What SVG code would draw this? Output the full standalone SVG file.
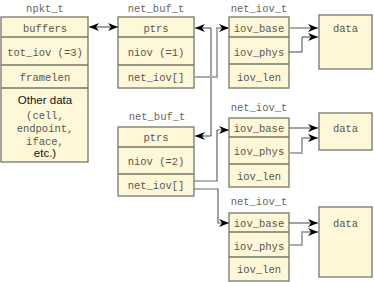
<svg xmlns="http://www.w3.org/2000/svg" width="374" height="282" viewBox="0 0 374 282">
<style>
.bg{fill:#ffffff}
.box{fill:#fff8d8;stroke:#77776a;stroke-width:1.3}
.div{stroke:#77776a;stroke-width:1.3;fill:none}
.mono{font-family:"Liberation Mono","Courier New",monospace;font-size:10.5px;fill:#555;text-anchor:middle}
.sans{font-family:"Liberation Sans",Arial,sans-serif;font-size:11.5px;fill:#111;text-anchor:middle}
.ttl{font-family:"Liberation Mono","Courier New",monospace;font-size:10.5px;fill:#666;text-anchor:middle}
.ld{fill:none;stroke:#444;stroke-width:1}
.lm{fill:none;stroke:#666;stroke-width:1.2}
.lg{fill:none;stroke:#aaa;stroke-width:2}
</style>
<defs>
<marker id="ah" markerUnits="userSpaceOnUse" markerWidth="11" markerHeight="9" refX="10" refY="4" orient="auto-start-reverse" viewBox="0 0 11 9">
<path d="M0,0 L10,4 L0,8 L3,4 Z" fill="#000"/>
</marker>
</defs>
<rect class="bg" x="0" y="0" width="374" height="282"/>

<g id="npkt_t">
<text class="ttl" x="45" y="12">npkt_t</text>
<rect class="box" x="1" y="17" width="87" height="145"/>
<path class="div" d="M1,37 H88 M1,65 H88 M1,88 H88"/>
<text class="mono" x="45" y="31.5">buffers</text>
<text class="mono" x="45" y="55.5">tot_iov (=3)</text>
<text class="mono" x="45" y="80.5">framelen</text>
<text class="sans" x="45" y="104">Other data</text>
<text class="mono" x="45" y="118.5">(cell,</text>
<text class="mono" x="45" y="131.5">endpoint,</text>
<text class="mono" x="45" y="144.5">iface,</text>
<text class="sans" x="45" y="157">etc.)</text>
</g>

<g id="net_buf_1">
<text class="ttl" x="156" y="12">net_buf_t</text>
<rect class="box" x="118" y="17" width="76" height="71"/>
<path class="div" d="M118,37 H194 M118,65 H194"/>
<text class="mono" x="156" y="31.5">ptrs</text>
<text class="mono" x="156" y="55.5">niov (=1)</text>
<text class="mono" x="156" y="80.5">net_iov[]</text>
</g>

<g id="net_buf_2">
<text class="ttl" x="157" y="120">net_buf_t</text>
<rect class="box" x="118" y="127" width="76" height="69"/>
<path class="div" d="M118,147 H194 M118,174 H194"/>
<text class="mono" x="156" y="141">ptrs</text>
<text class="mono" x="156" y="164.5">niov (=2)</text>
<text class="mono" x="156" y="188.5">net_iov[]</text>
</g>

<g id="net_iov_1">
<text class="ttl" x="259" y="12">net_iov_t</text>
<rect class="box" x="229" y="17" width="60" height="71"/>
<path class="div" d="M229,37 H289 M229,64 H289"/>
<text class="mono" x="259" y="31.5">iov_base</text>
<text class="mono" x="259" y="55.5">iov_phys</text>
<text class="mono" x="259" y="80.5">iov_len</text>
</g>

<g id="net_iov_2">
<text class="ttl" x="259" y="111">net_iov_t</text>
<rect class="box" x="229" y="118" width="60" height="69"/>
<path class="div" d="M229,137 H289 M229,164 H289"/>
<text class="mono" x="259" y="131.5">iov_base</text>
<text class="mono" x="259" y="154.5">iov_phys</text>
<text class="mono" x="259" y="179.5">iov_len</text>
</g>

<g id="net_iov_3">
<text class="ttl" x="259" y="205">net_iov_t</text>
<rect class="box" x="229" y="213" width="60" height="68"/>
<path class="div" d="M229,232 H289 M229,257 H289"/>
<text class="mono" x="259" y="226.5">iov_base</text>
<text class="mono" x="259" y="249.5">iov_phys</text>
<text class="mono" x="259" y="272.5">iov_len</text>
</g>

<g id="data_1">
<rect class="box" x="319" y="15" width="53" height="54"/>
<text class="mono" x="345.5" y="31.5">data</text>
</g>
<g id="data_2">
<rect class="box" x="319" y="113" width="53" height="37"/>
<text class="mono" x="345.5" y="131.5">data</text>
</g>
<g id="data_3">
<rect class="box" x="319" y="207" width="53" height="70"/>
<text class="mono" x="345.5" y="226.5">data</text>
</g>

<g id="connectors">
<path class="ld" d="M89,27 H118" marker-start="url(#ah)" marker-end="url(#ah)"/>
<path class="ld" d="M195,28 H211 V136 H195" marker-start="url(#ah)" marker-end="url(#ah)"/>
<path class="lg" d="M194,77 H217 V28 H229" marker-end="url(#ah)"/>
<path class="lm" d="M194,181 H217 V130 H229" marker-end="url(#ah)"/>
<path class="lm" d="M194,189 H218 V223 H229" marker-end="url(#ah)"/>
<path class="lg" d="M289,28 H318" marker-end="url(#ah)"/>
<path class="ld" d="M289,52 H302 V37 H318" marker-end="url(#ah)"/>
<path class="lm" d="M289,128 H318" marker-end="url(#ah)"/>
<path class="lg" d="M289,153 H302 V138 H318" marker-end="url(#ah)"/>
<path class="lm" d="M289,223 H318" marker-end="url(#ah)"/>
<path class="lg" d="M289,245 H302 V232 H318" marker-end="url(#ah)"/>
</g>
</svg>
